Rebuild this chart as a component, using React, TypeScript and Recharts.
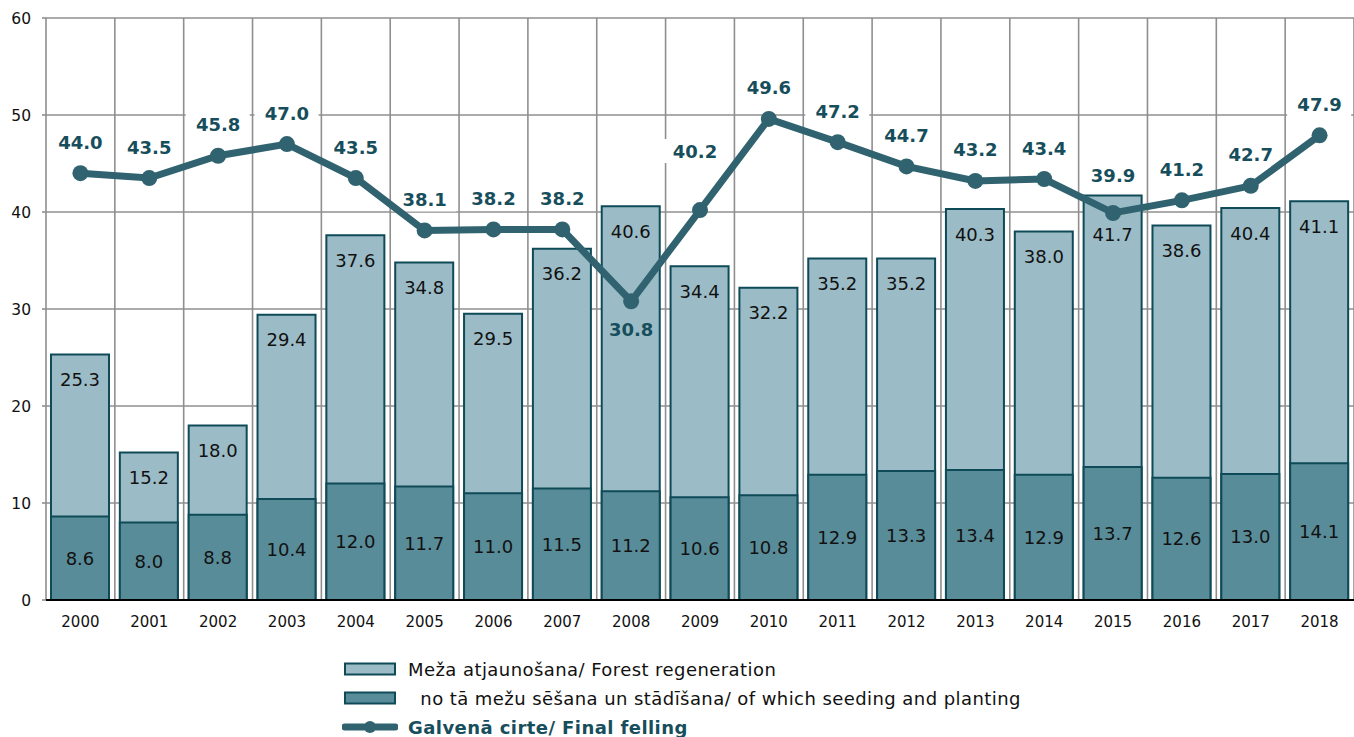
import React from 'react';
import { ComposedChart, Bar, Line, XAxis, YAxis, CartesianGrid, Legend, LabelList } from 'recharts';

const years = ['2000','2001','2002','2003','2004','2005','2006','2007','2008','2009','2010','2011','2012','2013','2014','2015','2016','2017','2018'];
const regeneration = [25.3, 15.2, 18.0, 29.4, 37.6, 34.8, 29.5, 36.2, 40.6, 34.4, 32.2, 35.2, 35.2, 40.3, 38.0, 41.7, 38.6, 40.4, 41.1];
const seeding = [8.6, 8.0, 8.8, 10.4, 12.0, 11.7, 11.0, 11.5, 11.2, 10.6, 10.8, 12.9, 13.3, 13.4, 12.9, 13.7, 12.6, 13.0, 14.1];
const felling = [44.0, 43.5, 45.8, 47.0, 43.5, 38.1, 38.2, 38.2, 30.8, 40.2, 49.6, 47.2, 44.7, 43.2, 43.4, 39.9, 41.2, 42.7, 47.9];
const yTicks = [0, 10, 20, 30, 40, 50, 60];

const legendLabels = [
  'Meža atjaunošana/ Forest regeneration',
  '  no tā mežu sēšana un stādīšana/ of which seeding and planting',
  'Galvenā cirte/ Final felling',
];

const data = years.map((y, i) => ({ year: y, regeneration: regeneration[i], seeding: seeding[i], felling: felling[i] }));

const FONT = '"DejaVu Sans", Verdana, sans-serif';
const LIGHT = '#9bbcc6';
const DARK = '#598c99';
const EDGE = '#0e4a57';
const LINE = '#30636f';
const LABEL = '#174e5c';
const GRID = '#8f8f8f';

const fmt = (v: number) => Number(v).toFixed(1);
// line point sits deep inside the bar -> its label goes below the point
const isBelow = (i: number) => felling[i] < regeneration[i] - 5;
// line point just under the bar top -> both labels move away from it
const nearTop = (i: number) => felling[i] < regeneration[i] && regeneration[i] - felling[i] <= 5;
// steep rise to the next point -> label lifted clear of the segment
const steepNext = (i: number) => i + 1 < felling.length && felling[i + 1] - felling[i] > 8;

const lineLabelPos = (i: number, x: number, y: number) => {
  if (isBelow(i)) return { lx: x, ly: y + 28 };
  if (steepNext(i)) return { lx: x - 5, ly: y - 59 };
  if (nearTop(i)) return { lx: x, ly: y - 37 };
  return { lx: x, ly: y - 31 };
};

const LightLabel = (props: any) => {
  const { x, y, width, value, index } = props;
  const off = nearTop(index) ? 39 : 25;
  return (
    <text x={x + width / 2} y={y + off} textAnchor="middle" dominantBaseline="central" fontSize={18} fontFamily={FONT} fill="#111">
      {fmt(value)}
    </text>
  );
};

const DarkLabel = (props: any) => {
  const { x, y, width, height, value } = props;
  return (
    <text x={x + width / 2} y={y + height / 2} textAnchor="middle" dominantBaseline="central" fontSize={18} fontFamily={FONT} fill="#111">
      {fmt(value)}
    </text>
  );
};

// white backdrop behind the line's value labels, drawn as a bar shape (beneath the line)
const LabelBox = (props: any) => {
  const { x, y, width, index } = props;
  if (isBelow(index)) return <g />;
  const { lx, ly } = lineLabelPos(index, x + width / 2, y);
  return <rect x={lx - 32} y={ly - 12} width={64} height={24} fill="#fff" />;
};

const LineLabel = (props: any) => {
  const { x, y, value, index } = props;
  const { lx, ly } = lineLabelPos(index, x, y);
  return (
    <text x={lx} y={ly} textAnchor="middle" dominantBaseline="central" fontSize={18} fontWeight="bold" fontFamily={FONT} fill={LABEL}>
      {fmt(value)}
    </text>
  );
};

const LegendContent = () => (
  <div style={{ height: 97, position: 'relative', fontFamily: FONT, fontSize: 18, letterSpacing: 0.43, color: '#111' }}>
    {legendLabels.map((t, i) => (
      <div key={i} style={{ position: 'absolute', left: 342, top: 19 + i * 29, height: 20, display: 'flex', alignItems: 'center', whiteSpace: 'pre' }}>
        <svg width={56} height={16} style={{ marginRight: 10 }}>
          {i === 0 && <rect x={3} y={2.5} width={50} height={11} fill={LIGHT} stroke={EDGE} strokeWidth={2} />}
          {i === 1 && <rect x={3} y={2.5} width={50} height={11} fill={DARK} stroke={EDGE} strokeWidth={2} />}
          {i === 2 && (
            <g>
              <line x1={3} y1={8} x2={53} y2={8} stroke={LINE} strokeWidth={7} strokeLinecap="round" />
              <circle cx={28} cy={8} r={6} fill={LINE} />
            </g>
          )}
        </svg>
        <span style={i === 2 ? { fontWeight: 'bold', color: LABEL } : undefined}>{t}</span>
      </div>
    ))}
  </div>
);

export default function App() {
  return (
    <div style={{ position: 'absolute', left: 0, top: 0 }}>
      <ComposedChart width={1354} height={737} data={data} margin={{ top: 18, right: 0, left: 0, bottom: 0 }}>
        <CartesianGrid
          xAxisId="a"
          stroke={GRID}
          strokeWidth={1.6}
          verticalCoordinatesGenerator={({ offset }: any) =>
            Array.from({ length: years.length + 1 }, (_, i) => offset.left + (i * offset.width) / years.length)
          }
        />
        <XAxis xAxisId="a" dataKey="year" tickLine={false} axisLine={{ stroke: '#000', strokeWidth: 2 }} height={40} tickMargin={10}
          tick={{ fontSize: 15, fontFamily: FONT, fill: '#111' }} interval={0} />
        <XAxis xAxisId="b" dataKey="year" hide />
        <XAxis xAxisId="c" dataKey="year" hide />
        <YAxis domain={[0, 60]} ticks={yTicks} width={46} axisLine={false} tickLine={{ stroke: GRID, strokeWidth: 1.6 }} tickSize={4} tickMargin={11}
          tick={{ fontSize: 15.5, fontFamily: FONT, fill: '#111' }} />
        <Legend verticalAlign="bottom" content={<LegendContent />} wrapperStyle={{ left: 0, width: 1354 }} />
        <Bar xAxisId="a" dataKey="regeneration" barSize={58} fill={LIGHT} stroke={EDGE} strokeWidth={2} isAnimationActive={false}>
          <LabelList dataKey="regeneration" content={<LightLabel />} />
        </Bar>
        <Bar xAxisId="b" dataKey="seeding" barSize={58} fill={DARK} stroke={EDGE} strokeWidth={2} isAnimationActive={false}>
          <LabelList dataKey="seeding" content={<DarkLabel />} />
        </Bar>
        <Bar xAxisId="c" dataKey="felling" barSize={58} shape={<LabelBox />} legendType="none" isAnimationActive={false} />
        <Line xAxisId="a" dataKey="felling" stroke={LINE} strokeWidth={7} dot={{ r: 8, fill: LINE, stroke: LINE, strokeWidth: 0 }} activeDot={false} isAnimationActive={false}>
          <LabelList dataKey="felling" content={<LineLabel />} />
        </Line>
      </ComposedChart>
    </div>
  );
}
